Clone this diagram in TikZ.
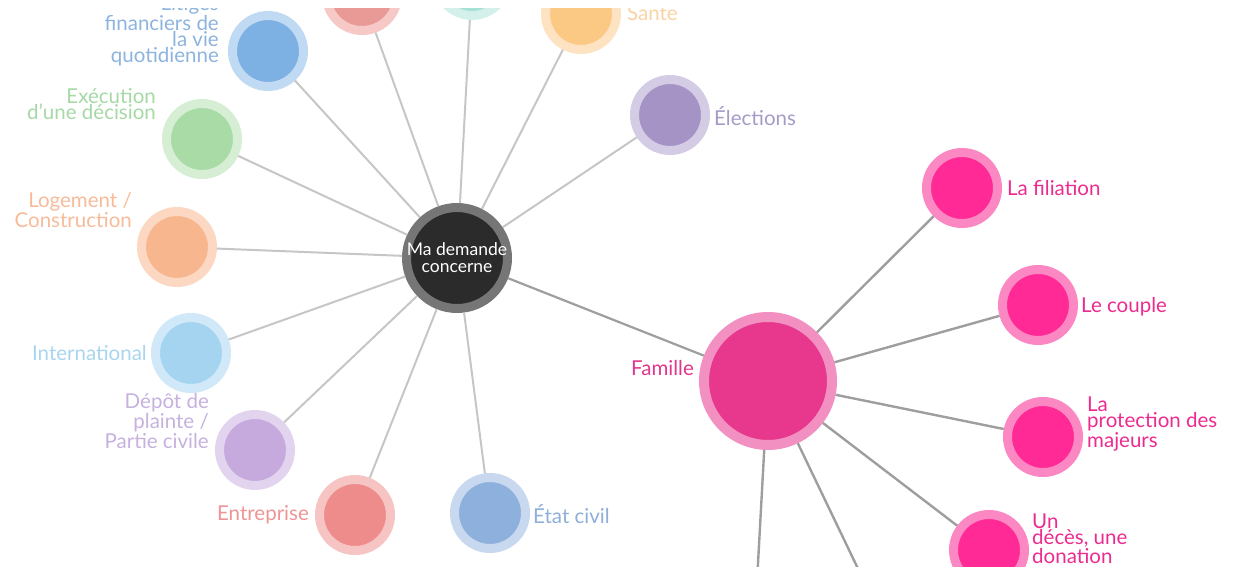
\documentclass[tikz,border=0pt]{standalone}
\usepackage{fontspec}
\setmainfont{Lato}
\definecolor{ctrin}{HTML}{2B2B2B}
\definecolor{ctrring}{HTML}{767676}
\definecolor{spokegray}{HTML}{C6C6C6}
\definecolor{famgray}{HTML}{9E9E9E}
\definecolor{litin}{HTML}{7DB0E3}\definecolor{litring}{HTML}{C0DAF3}\definecolor{litc}{HTML}{8DB3DF}
\definecolor{exein}{HTML}{A8DBA6}\definecolor{exering}{HTML}{D5EED4}\definecolor{exec}{HTML}{A6D8A6}
\definecolor{login}{HTML}{F8B68F}\definecolor{logring}{HTML}{FCD7C2}\definecolor{logc}{HTML}{F7BB9A}
\definecolor{intin}{HTML}{A4D4EF}\definecolor{intring}{HTML}{D0E8F7}\definecolor{intc}{HTML}{A9D5EE}
\definecolor{depin}{HTML}{C6A9DD}\definecolor{depring}{HTML}{E2D4EF}\definecolor{depc}{HTML}{C6B1DF}
\definecolor{entin}{HTML}{EE8B8B}\definecolor{entring}{HTML}{F7C4C4}\definecolor{entc}{HTML}{EE9494}
\definecolor{etain}{HTML}{8DB0DC}\definecolor{etaring}{HTML}{C7D8EF}\definecolor{etac}{HTML}{8EAFD9}
\definecolor{elein}{HTML}{A593C6}\definecolor{elering}{HTML}{D4CBE4}\definecolor{elec}{HTML}{A69BC6}
\definecolor{sanin}{HTML}{FCC985}\definecolor{sanring}{HTML}{FDE3C2}\definecolor{sanc}{HTML}{FAD3A3}
\definecolor{teain}{HTML}{A5E2D5}\definecolor{tearing}{HTML}{D3F1EA}
\definecolor{redin}{HTML}{E99996}\definecolor{redring}{HTML}{F6C8C6}
\definecolor{famin}{HTML}{E8388E}\definecolor{famring}{HTML}{F291C1}\definecolor{famc}{HTML}{E2358C}
\definecolor{subin}{HTML}{FF2A96}\definecolor{subring}{HTML}{FB88C2}\definecolor{subc}{HTML}{EC2B8F}
\tikzset{
  bub/.style 2 args={circle,inner sep=0pt,minimum size=71pt,line width=9pt,fill=#1,draw=#2},
  lbl/.style={text=#1,font=\fontsize{20.5}{16}\selectfont,inner sep=0pt},
  spoke/.style={draw=spokegray,line width=2pt},
  famspoke/.style={draw=famgray,line width=2.4pt}
}
\begin{document}
\begin{tikzpicture}[x=1pt,y=-1pt]
\useasboundingbox (0,0) rectangle (1237,567);
\clip (0,9) rectangle (1237,567);

\node[bub={ctrin}{ctrring},minimum size=101pt] (ctr) at (457,258) {};
\node[bub={redin}{redring}] (haut1) at (362,-5) {};
\node[bub={teain}{tearing}] (haut2) at (472,-20) {};
\node[bub={sanin}{sanring}] (sante) at (581,14) {};
\node[bub={elein}{elering}] (elect) at (670,115) {};
\node[bub={litin}{litring}] (lit) at (268,51) {};
\node[bub={exein}{exering}] (exe) at (202,139) {};
\node[bub={login}{logring}] (loge) at (177,247) {};
\node[bub={intin}{intring}] (intl) at (191,353) {};
\node[bub={depin}{depring}] (dep) at (255,450) {};
\node[bub={entin}{entring}] (ent) at (355,515) {};
\node[bub={etain}{etaring}] (etat) at (490,513) {};
\node[bub={famin}{famring},minimum size=128pt,line width=10pt] (fam) at (768,381) {};
\node[bub={subin}{subring}] (fil) at (962,188) {};
\node[bub={subin}{subring}] (cpl) at (1038,305) {};
\node[bub={subin}{subring}] (prot) at (1043,437) {};
\node[bub={subin}{subring}] (dec) at (989,550) {};
\coordinate (bas1) at (756,600);
\coordinate (bas2) at (873,600);

\foreach \n in {haut1,haut2,sante,elect,lit,exe,loge,intl,dep,ent,etat}{
\draw[spoke] (ctr) -- (\n);
}
\draw[famspoke,line width=2.2pt] (ctr) -- (fam);
\foreach \n in {fil,cpl,prot,dec,bas1,bas2}{
\draw[famspoke] (fam) -- (\n);
}

\node[text=white,font=\fontsize{17.5}{17}\selectfont,align=center,inner sep=0pt] (ctr-l) at (ctr) {Ma demande\\concerne};
\node[lbl=litc,anchor=east,align=right] (lit-l) at (219,31) {Litiges\\financiers de\\la vie\\quotidienne};
\node[lbl=exec,anchor=east,align=right] (exe-l) at (156,104) {Exécution\\d'une décision};
\node[lbl=logc,anchor=east,align=right] (loge-l) at (132,210) {Logement /\\Construction};
\node[lbl=intc,anchor=east] (intl-l) at (147,353) {International};
\node[lbl=depc,anchor=east,align=right] (dep-l) at (209,421) {Dépôt de\\plainte /\\Partie civile};
\node[lbl=entc,anchor=east] (ent-l) at (309,515) {Entreprise};
\node[lbl=etac,anchor=west] (etat-l) at (533,514) {État civil};
\node[lbl=elec,anchor=west] (elect-l) at (714,116) {Élections};
\node[lbl=sanc,anchor=west] (sante-l) at (627,13) {Santé};
\node[lbl=famc,anchor=east] (fam-l) at (694,368) {Famille};
\node[lbl=subc,anchor=west] (fil-l) at (1007,188) {La filiation};
\node[lbl=subc,anchor=west] (cpl-l) at (1081,307) {Le couple};
\node[lbl=subc,anchor=west,align=left] (prot-l) at (1087,424) {La\\protection des\\majeurs};
\node[lbl=subc,anchor=west,align=left] (dec-l) at (1032,539) {Un\\décès, une\\donation};
\end{tikzpicture}
\end{document}
